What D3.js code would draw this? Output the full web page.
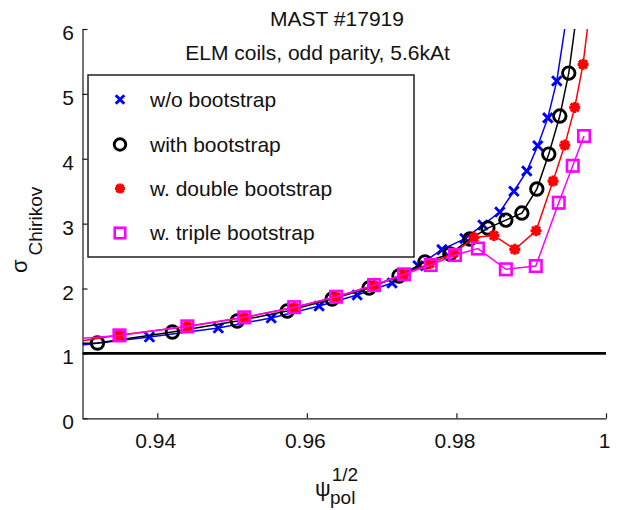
<!DOCTYPE html>
<html>
<head>
<meta charset="utf-8">
<script src="https://cdn.jsdelivr.net/npm/d3@7"></script>
<style>
  html, body { margin: 0; padding: 0; background: #fff; }
  svg { display: block; font-family: "Liberation Sans", Arial, Helvetica, sans-serif; }
</style>
</head>
<body>
<svg id="chart" width="619" height="510"></svg>
<script>
// sqrt(psi_pol) grid and Chirikov parameter for each bootstrap case
const psiNoBs   = [0.9300, 0.93895, 0.94816, 0.95523, 0.96164, 0.96672, 0.97139, 0.97486, 0.97806, 0.98113, 0.98354, 0.98581, 0.98768, 0.98941, 0.99088, 0.99222, 0.99342, 0.99448];
const sigNoBs   = [1.13,   1.253,   1.392,   1.546,   1.731,   1.900,   2.085,   2.350,   2.600,   2.770,   2.980,   3.180,   3.500,   3.810,   4.200,   4.630,   5.200,   6.000];

const psiBs     = [0.9300, 0.93200, 0.94202, 0.95069, 0.95737, 0.96338, 0.96832, 0.97232, 0.97579, 0.97913, 0.98180, 0.98420, 0.98661, 0.98875, 0.99075, 0.99235, 0.99382, 0.99502, 0.99581];
const sigBs     = [1.156,  1.160,   1.330,   1.499,   1.653,   1.838,   2.008,   2.193,   2.409,   2.532,   2.763,   2.932,   3.055,   3.163,   3.533,   4.072,   4.658,   5.320,   6.000];

const psiDblBs  = [0.9300, 0.93494, 0.94402, 0.95163, 0.95830, 0.96391, 0.96899, 0.97299, 0.97646, 0.97967, 0.98234, 0.98501, 0.98781, 0.99065, 0.99292, 0.99449, 0.99582, 0.99693, 0.99751];
const sigDblBs  = [1.195,  1.283,   1.414,   1.553,   1.707,   1.869,   2.046,   2.216,   2.385,   2.547,   2.786,   2.817,   2.604,   2.891,   3.656,   4.211,   4.792,   5.455,   6.000];

const psiTrpBs  = [0.9300, 0.93494, 0.94402, 0.95163, 0.95830, 0.96391, 0.96899, 0.97299, 0.97656, 0.97980, 0.98287, 0.98661, 0.99061, 0.99368, 0.99555, 0.99706];
const sigTrpBs  = [1.232,  1.278,   1.417,   1.556,   1.713,   1.874,   2.054,   2.219,   2.362,   2.516,   2.616,   2.296,   2.347,   3.322,   3.892,   4.350];

const seriesNames  = ["w/o bootstrap", "with bootstrap", "w. double bootstrap", "w. triple bootstrap"];
const seriesColors = ["#0000ff", "#000000", "#ff0000", "#ff00ff"];
const seriesMarks  = ["x", "o", "*", "s"];

const xTicks = [0.94, 0.96, 0.98, 1];
const xTickLabels = ["0.94", "0.96", "0.98", "1"];
const yTicks = [0, 1, 2, 3, 4, 5, 6];
const threshold = 1;

const titleLine1 = "MAST #17919";
const titleLine2 = "ELM coils, odd parity, 5.6kAt";

const series = [
  { psi: psiNoBs,  sig: sigNoBs },
  { psi: psiBs,    sig: sigBs },
  { psi: psiDblBs, sig: sigDblBs },
  { psi: psiTrpBs, sig: sigTrpBs }
].map((s, i) => ({
  name: seriesNames[i], color: seriesColors[i], mark: seriesMarks[i],
  pts: s.psi.map((p, j) => ({ psi: p, sig: s.sig[j] }))
}));

const svg = d3.select("#chart");
const plotL = 82.5, plotR = 606, plotT = 29, plotB = 418.3;
const x = d3.scaleLinear().domain([0.93, 1]).range([plotL, plotR]);
const y = d3.scaleLinear().domain([0, 6]).range([plotB, plotT]);

svg.append("defs").append("clipPath").attr("id", "plotclip")
  .append("rect").attr("x", plotL).attr("y", plotT)
  .attr("width", plotR - plotL).attr("height", plotB - plotT);

// axes (left and bottom only, ticks pointing inward)
const axisColor = "#1a1a1a";
const gx = svg.append("g").attr("transform", `translate(0,${plotB})`)
  .call(d3.axisBottom(x).tickValues(xTicks).tickSize(-5).tickSizeOuter(0).tickPadding(15)
    .tickFormat((d, i) => xTickLabels[i]));
const gy = svg.append("g").attr("transform", `translate(${plotL},0)`)
  .call(d3.axisLeft(y).tickValues(yTicks).tickSize(-5).tickSizeOuter(0).tickPadding(8.5)
    .tickFormat(d3.format("d")));
[gx, gy].forEach(g => {
  g.select(".domain").attr("stroke", axisColor).attr("stroke-width", 1.2);
  g.selectAll(".tick line").attr("stroke", axisColor).attr("stroke-width", 1.2);
  g.selectAll(".tick text").attr("fill", "#111").style("font-size", "21px")
    .style("font-family", "'Liberation Sans', Arial, sans-serif");
});
gx.selectAll(".tick text").attr("dx", "-2");
gy.selectAll(".tick text").attr("dy", "0.5em");

const plot = svg.append("g").attr("clip-path", "url(#plotclip)");

// marginal stability reference at sigma = 1
plot.append("line")
  .attr("x1", x(0.93)).attr("x2", x(1))
  .attr("y1", y(threshold)).attr("y2", y(threshold))
  .attr("stroke", "#000").attr("stroke-width", 2.6);

function drawMarker(g, kind, color, cx, cy, size) {
  const h = size / 2;
  if (kind === "x") {
    g.append("path").attr("d", `M${cx-h},${cy-h}L${cx+h},${cy+h}M${cx-h},${cy+h}L${cx+h},${cy-h}`)
      .attr("stroke", color).attr("stroke-width", 2.9).attr("fill", "none");
  } else if (kind === "o") {
    g.append("circle").attr("cx", cx).attr("cy", cy).attr("r", h)
      .attr("stroke", color).attr("stroke-width", 2.9).attr("fill", "none");
  } else if (kind === "*") {
    const d = h * 0.72;
    g.append("path").attr("d",
      `M${cx-h},${cy}L${cx+h},${cy}M${cx},${cy-h}L${cx},${cy+h}` +
      `M${cx-d},${cy-d}L${cx+d},${cy+d}M${cx-d},${cy+d}L${cx+d},${cy-d}`)
      .attr("stroke", color).attr("stroke-width", 3.1).attr("fill", "none");
  } else if (kind === "s") {
    g.append("rect").attr("x", cx - h).attr("y", cy - h).attr("width", size).attr("height", size)
      .attr("stroke", color).attr("stroke-width", 2.6).attr("fill", "none");
  }
}

const markerSize = { x: 9.5, o: 12.5, "*": 11, s: 11.5 };
const line = d3.line().x(d => x(d.psi)).y(d => y(d.sig));

series.forEach(s => {
  const g = plot.append("g");
  g.append("path").datum(s.pts).attr("d", line)
    .attr("fill", "none").attr("stroke", s.color).attr("stroke-width", 1.5);
  // markers on computed points; the edge points only anchor the curve
  s.pts.filter(p => p.psi > 0.93 && p.sig < 6).forEach(p =>
    drawMarker(g, s.mark, s.color, x(p.psi), y(p.sig), markerSize[s.mark]));
});

// title
const titleStyle = t => t.attr("text-anchor", "middle").attr("fill", "#111").style("font-size", "21px");
svg.append("text").attr("x", 337).attr("y", 26).text(titleLine1).call(titleStyle);
svg.append("text").attr("x", 317.5).attr("y", 60).text(titleLine2).call(titleStyle);

// legend
const lg = svg.append("g");
lg.append("rect").attr("x", 88).attr("y", 75).attr("width", 326).attr("height", 182)
  .attr("fill", "#fff").attr("stroke", "#111").attr("stroke-width", 1.4);
const rowY = [99.5, 144.5, 188.5, 233];
series.forEach((s, i) => {
  drawMarker(lg, s.mark, s.color, 120, rowY[i], markerSize[s.mark] - 1);
  lg.append("text").attr("x", 150).attr("y", rowY[i] + 7).attr("fill", "#111")
    .style("font-size", "21px").text(s.name);
});

// axis labels
const xl = svg.append("text").attr("x", 315).attr("y", 496).attr("fill", "#111").style("font-size", "22px");
xl.append("tspan").text("ψ");
xl.append("tspan").attr("dy", -15).attr("dx", 1).style("font-size", "19px").text("1/2");
xl.append("tspan").attr("x", 330).attr("dy", 23).style("font-size", "19px").text("pol");

const yl = svg.append("text").attr("transform", "translate(27,273) rotate(-90)")
  .attr("fill", "#111").style("font-size", "22px");
yl.append("tspan").text("σ");
yl.append("tspan").attr("dy", 15).attr("dx", 4).style("font-size", "19px").text("Chirikov");
</script>
</body>
</html>
